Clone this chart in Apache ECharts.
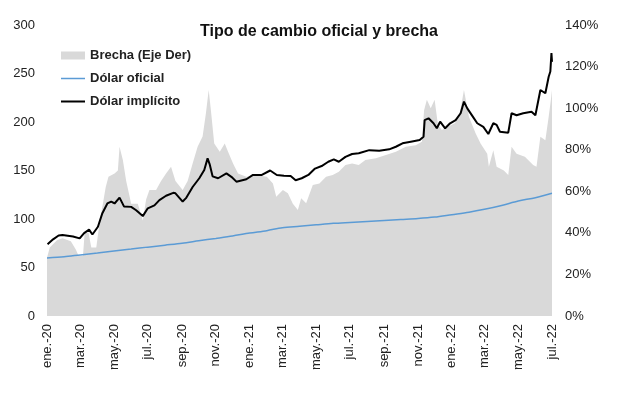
<!DOCTYPE html>
<html>
<head>
<meta charset="utf-8">
<script src="https://cdn.jsdelivr.net/npm/echarts@6/dist/echarts.min.js"></script>
<style>
  html, body { margin:0; padding:0; background:#fff; }
  #chart { width:617px; height:399px; }
</style>
</head>
<body>
<div id="chart"></div>
<script>
// ===== Data =====
// Dólar implícito (left axis, $)
const implicitoDates = [
  '2020-01-02','2020-01-12','2020-01-22','2020-01-29','2020-02-17','2020-02-29','2020-03-08','2020-03-17','2020-03-23',
  '2020-04-02','2020-04-10','2020-04-19','2020-04-26','2020-05-02','2020-05-11','2020-05-19','2020-06-01','2020-06-10',
  '2020-06-22','2020-07-01','2020-07-13','2020-07-22','2020-08-03','2020-08-16','2020-08-20','2020-09-02','2020-09-08',
  '2020-09-20','2020-10-02','2020-10-11','2020-10-17','2020-10-21','2020-10-26','2020-11-05','2020-11-20','2020-11-29',
  '2020-12-08','2020-12-26','2021-01-07','2021-01-23','2021-02-07','2021-02-19','2021-03-04','2021-03-16','2021-03-25',
  '2021-04-05','2021-04-17','2021-04-29','2021-05-11','2021-05-23','2021-06-02','2021-06-11','2021-06-23','2021-07-05',
  '2021-07-17','2021-08-05','2021-08-23','2021-09-10','2021-09-22','2021-10-04','2021-10-19','2021-11-04','2021-11-11',
  '2021-11-13','2021-11-20','2021-11-29','2021-12-05','2021-12-11','2021-12-20','2021-12-29','2022-01-08','2022-01-17',
  '2022-01-23','2022-01-29','2022-02-08','2022-02-16','2022-02-27','2022-03-08','2022-03-17','2022-03-23','2022-03-29',
  '2022-04-13','2022-04-19','2022-04-28','2022-05-10','2022-05-25','2022-06-01','2022-06-10','2022-06-19','2022-06-25',
  '2022-06-28','2022-06-30','2022-07-01'
];
const implicito = [
  74, 79, 83, 83.5, 82, 80, 85.5, 89, 84,
  92, 106, 116, 118, 116, 122, 113, 112.5, 109,
  103, 111, 114, 119.5, 124, 127, 126.5, 118, 121.5,
  133, 142, 150.5, 162.5, 156, 144, 142, 147, 143.5,
  138.5, 141, 145.4, 145.4, 150, 145.4, 144.6, 144.3, 140,
  142, 145.4, 152, 154.6, 159, 161.5, 159, 164, 167,
  167.7, 171, 170.4, 171.8, 174.5, 178, 179.7, 181.4, 184.8,
  202, 203.8, 198.7, 193.5, 200.3, 193.5, 198.7, 202, 209,
  221, 214, 205.5, 198.7, 195, 187.6, 198.7, 197, 190,
  189, 209, 207, 209, 210.6, 207, 233, 229.6, 246.7,
  252, 271, 262
];

// Dólar oficial (left axis, $), monthly
const oficialDates = [
  '2020-01-01','2020-02-01','2020-03-01','2020-04-01','2020-05-01','2020-06-01','2020-07-01','2020-08-01',
  '2020-09-01','2020-10-01','2020-11-01','2020-12-01','2021-01-01','2021-02-01','2021-03-01','2021-04-01',
  '2021-05-01','2021-06-01','2021-07-01','2021-08-01','2021-09-01','2021-10-01','2021-11-01','2021-12-01',
  '2022-01-01','2022-02-01','2022-03-01','2022-04-01','2022-05-01','2022-06-01','2022-07-01'
];
const oficial = [
  59.8, 61, 63, 65, 67, 69, 71, 73,
  75, 77.5, 80, 82.5, 85.5, 88, 91, 92.5,
  94, 95.5, 96.5, 97.5, 98.5, 99.5, 100.5, 102,
  104.5, 107, 110, 114, 118.5, 122, 126.5
];

// Brecha (right axis, %)
const brechaDates = [
  '2020-01-01','2020-01-06','2020-01-19','2020-01-29','2020-02-13','2020-02-22','2020-02-27','2020-03-06','2020-03-09',
  '2020-03-16','2020-03-21','2020-03-30','2020-04-05','2020-04-10','2020-04-16','2020-04-21','2020-05-02','2020-05-08',
  '2020-05-11','2020-05-17','2020-05-23','2020-06-01','2020-06-13','2020-06-22','2020-06-28','2020-07-04','2020-07-16',
  '2020-07-25','2020-08-03','2020-08-12','2020-08-20','2020-09-02','2020-09-11','2020-09-20','2020-09-29','2020-10-08',
  '2020-10-14','2020-10-19','2020-10-23','2020-10-29','2020-11-08','2020-11-17','2020-11-23','2020-12-02','2020-12-11',
  '2020-12-26','2021-01-13','2021-02-01','2021-02-12','2021-02-18','2021-03-02','2021-03-11','2021-03-20','2021-03-29',
  '2021-04-04','2021-04-13','2021-04-25','2021-05-07','2021-05-19','2021-05-31','2021-06-11','2021-06-23','2021-07-05',
  '2021-07-17','2021-07-29','2021-08-17','2021-09-04','2021-09-22','2021-10-10','2021-10-28','2021-11-08','2021-11-12',
  '2021-11-17','2021-11-24','2021-12-01','2021-12-07','2021-12-14','2021-12-25','2022-01-07','2022-01-16','2022-01-23',
  '2022-02-01','2022-02-13','2022-02-22','2022-03-06','2022-03-09','2022-03-17','2022-03-23','2022-04-05','2022-04-13',
  '2022-04-19','2022-04-28','2022-05-13','2022-05-28','2022-06-03','2022-06-10','2022-06-19','2022-06-25','2022-06-29',
  '2022-07-01'
];
const brecha = [
  28, 33, 36.5, 37.4, 36, 32, 29, 29, 40,
  40, 33, 33, 45, 52.6, 62, 67, 68.6, 70,
  81.4, 75, 65, 54, 54, 46, 56, 60.6, 60.6,
  65, 68.6, 71.8, 65, 60.6, 65, 73.4, 81.4, 86.3,
  97.5, 108.7, 99, 83, 79, 83, 79, 73.4, 68.6,
  67, 67.8, 67, 63.8, 57.4, 60.6, 59, 54, 51,
  56.6, 54.2, 63, 63.8, 67, 67.8, 69.4, 72.6, 73.4,
  72.6, 75, 75.9, 77.4, 79, 81.4, 82.2, 83.8, 99,
  104, 100, 104, 92, 89.5, 91, 92.8, 98, 108.7,
  95.9, 87.9, 83, 78, 71.8, 79.8, 71.8, 70, 67.8,
  81.4, 78, 76.6, 72.6, 71.8, 86.2, 84.6, 95.9, 104,
  108.7
];

// X tick labels (every two months)
const tickDates = [
  '2020-01','2020-03','2020-05','2020-07','2020-09','2020-11','2021-01','2021-03',
  '2021-05','2021-07','2021-09','2021-11','2022-01','2022-03','2022-05','2022-07'
];
const tickLabels = [
  'ene.-20','mar.-20','may.-20','jul.-20','sep.-20','nov.-20','ene.-21','mar.-21',
  'may.-21','jul.-21','sep.-21','nov.-21','ene.-22','mar.-22','may.-22','jul.-22'
];

// ===== helpers =====
// dates -> day number (days since 2020-01-01), used on a plain value axis
const DAY0 = Date.UTC(2020, 0, 1);
const toDay = s => { const [y, m, d] = s.split('-').map(Number); return (Date.UTC(y, m - 1, d || 1) - DAY0) / 86400000; };
const zip = (dates, vals) => dates.map((d, i) => [toDay(d), vals[i]]);
const tickDays = tickDates.map(toDay);

const FONT = '"Liberation Sans", Arial, sans-serif';
const GRAY  = '#d9d9d9';
const BLUE  = '#5b9bd5';
const BLACK = '#000';

const chart = echarts.init(document.getElementById('chart'), null, { renderer:'canvas' });

chart.setOption({
  animation: false,
  backgroundColor: '#fff',
  title: {
    text: 'Tipo de cambio oficial y brecha',
    left: 195, top: 19,
    textStyle: { fontFamily: FONT, fontSize: 16, fontWeight: 'bold', color: '#111' }
  },
  legend: {
    orient: 'vertical',
    left: 56, top: 44,
    itemWidth: 24, itemHeight: 8, itemGap: 10,
    textStyle: { fontFamily: FONT, fontSize: 13, fontWeight: 'bold', color: '#222' },
    data: [
      { name: 'Brecha (Eje Der)', icon: 'rect', itemStyle: { color: GRAY, borderWidth: 0 } },
      { name: 'Dólar oficial', icon: 'path://M0,0 L24,0 L24,1.5 L0,1.5 Z', itemStyle: { color: BLUE, borderWidth: 0 } },
      { name: 'Dólar implícito', icon: 'path://M0,0 L24,0 L24,2 L0,2 Z', itemStyle: { color: BLACK, borderWidth: 0 } }
    ]
  },
  grid: { left: 47, right: 65, top: 25, bottom: 83 },
  xAxis: {
    type: 'value',
    min: toDay('2020-01-01'),
    max: toDay('2022-07-01'),
    axisLine: { show: false },
    axisTick: { show: false },
    splitLine: { show: false },
    axisLabel: {
      customValues: tickDays,
      rotate: 90,
      margin: 8,
      fontFamily: FONT, fontSize: 13, color: '#222',
      formatter: v => {
        const i = tickDays.indexOf(v);
        return i >= 0 ? tickLabels[i] : '';
      }
    }
  },
  yAxis: [
    {
      type: 'value', min: 0, max: 300, interval: 50,
      axisLine: { show: false }, axisTick: { show: false }, splitLine: { show: false },
      axisLabel: { margin: 12, fontFamily: FONT, fontSize: 13, color: '#222' }
    },
    {
      type: 'value', min: 0, max: 140, interval: 20, position: 'right',
      axisLine: { show: false }, axisTick: { show: false }, splitLine: { show: false },
      axisLabel: { margin: 13, fontFamily: FONT, fontSize: 13, color: '#222', formatter: '{value}%' }
    }
  ],
  series: [
    {
      name: 'Brecha (Eje Der)', type: 'line', yAxisIndex: 1,
      data: zip(brechaDates, brecha),
      symbol: 'none',
      lineStyle: { width: 0, color: GRAY },
      itemStyle: { color: GRAY },
      areaStyle: { color: GRAY, opacity: 1 },
      z: 1
    },
    {
      name: 'Dólar oficial', type: 'line', yAxisIndex: 0,
      data: zip(oficialDates, oficial),
      symbol: 'none', smooth: 0.3,
      lineStyle: { width: 1.5, color: BLUE },
      itemStyle: { color: BLUE },
      z: 2
    },
    {
      name: 'Dólar implícito', type: 'line', yAxisIndex: 0,
      data: zip(implicitoDates, implicito),
      symbol: 'none',
      lineStyle: { width: 2, color: BLACK },
      itemStyle: { color: BLACK },
      z: 3
    }
  ]
});
</script>
</body>
</html>
